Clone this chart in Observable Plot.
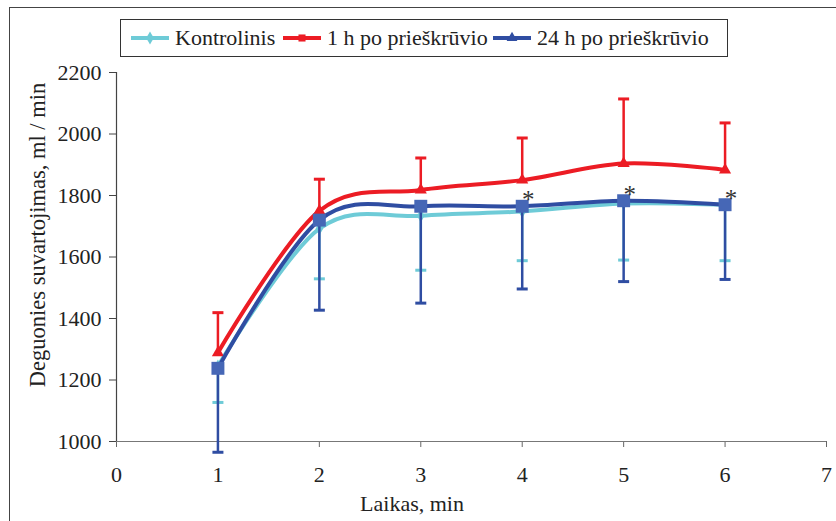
<!DOCTYPE html>
<html><head><meta charset="utf-8">
<script src="https://cdn.jsdelivr.net/npm/d3@7"></script>
<script src="https://cdn.jsdelivr.net/npm/@observablehq/plot@0.6"></script>
<style>
body{margin:0;background:#fff;}
#wrap{position:relative;width:836px;height:521px;overflow:hidden;font-family:"Liberation Serif","DejaVu Serif",serif;color:#222;}
#border{position:absolute;left:9px;top:7px;width:900px;height:600px;border-left:1.5px solid #444;border-top:1.5px solid #444;pointer-events:none;}
#legend{position:relative;height:60px;}
#lbox{position:absolute;left:120px;top:19px;width:606px;height:36px;border:1px solid #333;background:#fff;}
.item{position:absolute;top:0;height:36px;display:flex;align-items:center;font-size:22px;white-space:nowrap;font-family:"Liberation Serif","DejaVu Serif",serif;}
#chart svg{display:block;}
#chart svg text{font-family:"Liberation Serif","DejaVu Serif",serif;}
</style></head>
<body><div id="wrap"><div id="border"></div><div id="legend"><div id="lbox"></div></div><div id="chart"></div></div>
<script>
// ---- data ----
const times = [1, 2, 3, 4, 5, 6];
const kontrolinis   = [1245, 1692, 1734, 1748, 1774, 1770];
const kontrolinisLo = [1127, 1529, 1557, 1588, 1590, 1588];
const poViena       = [1289, 1750, 1818, 1850, 1904, 1883];
const poVienaHi     = [1419, 1853, 1922, 1987, 2114, 2036];
const po24          = [1238, 1720, 1765, 1765, 1783, 1770];
const po24Lo        = [965, 1427, 1450, 1496, 1520, 1527];
const starTimes = [4, 5, 6];
const seriesNames = ["Kontrolinis", "1 h po prieškrūvio", "24 h po prieškrūvio"];
const yTicks = [1000, 1200, 1400, 1600, 1800, 2000, 2200];
const xTicks = [0, 1, 2, 3, 4, 5, 6, 7];
const yLabel = "Deguonies suvartojimas, ml / min";
const xLabel = "Laikas, min";

// ---- styles ----
const FONT = '"Liberation Serif","DejaVu Serif",serif';
const cCyan = "#6ecbd7", cRed = "#ec1c24", cBlue = "#2f4da2", cBlueMark = "#4667b6";

const rows = times.map((t, i) => ({
  t, k: kontrolinis[i], kLo: kontrolinisLo[i],
  r: poViena[i], rHi: poVienaHi[i],
  b: po24[i], bLo: po24Lo[i]
}));
const starRows = rows.filter(d => starTimes.includes(d.t));

const hline = {draw(ctx, size) { const r = Math.sqrt(size / Math.PI); ctx.moveTo(-r, 0); ctx.lineTo(r, 0); }};

// ---- legend ----
const legendItems = [
  {name: seriesNames[0], color: cCyan, sym: d3.symbolDiamond, left: 10},
  {name: seriesNames[1], color: cRed, sym: d3.symbolSquare, left: 162},
  {name: seriesNames[2], color: cBlue, sym: d3.symbolTriangle, left: 372}
];
const lbox = d3.select("#lbox");
for (const it of legendItems) {
  const item = lbox.append("div").attr("class", "item").style("left", it.left + "px");
  const s = item.append("svg").attr("width", 38).attr("height", 14).style("margin-right", "6px");
  s.append("line").attr("x1", 0).attr("x2", 38).attr("y1", 7).attr("y2", 7).attr("stroke", it.color).attr("stroke-width", 4);
  s.append("path").attr("d", d3.symbol(it.sym, 50)()).attr("transform", "translate(19,7)").attr("fill", it.color);
  item.append("span").text(it.name);
}

// ---- chart ----
const plot = Plot.plot({
  width: 836, height: 461,
  marginTop: 12, marginBottom: 80, marginLeft: 116, marginRight: 10,
  style: {fontFamily: FONT, fontSize: "22px", color: "#222", background: "transparent", overflow: "visible"},
  x: {domain: [0, 7]},
  y: {domain: [1000, 2200]},
  marks: [
    Plot.axisY({ticks: yTicks, tickSize: 7, tickPadding: 8, label: null, stroke: "#444", tickFormat: d => String(d)}),
    Plot.axisX({ticks: xTicks, tickSize: 6, tickPadding: 19, label: null, stroke: "#666", tickFormat: d => String(d)}),
    Plot.ruleX([0], {stroke: "#444", strokeWidth: 1.2}),
    Plot.ruleY([1000], {stroke: "#777", strokeWidth: 1.2}),
    // Kontrolinis
    Plot.ruleX(rows, {x: "t", y1: "k", y2: "kLo", stroke: cCyan, strokeWidth: 2.5}),
    Plot.dot(rows, {x: "t", y: "kLo", symbol: hline, r: 5.5, fill: "none", stroke: cCyan, strokeWidth: 3}),
    Plot.line(rows, {x: "t", y: "k", stroke: cCyan, strokeWidth: 4, curve: "cardinal"}),
    Plot.dot(rows, {x: "t", y: "k", symbol: "diamond", r: 4, fill: cCyan, stroke: "none"}),
    // 1 h
    Plot.ruleX(rows, {x: "t", y1: "r", y2: "rHi", stroke: cRed, strokeWidth: 2.5}),
    Plot.dot(rows, {x: "t", y: "rHi", symbol: hline, r: 5.5, fill: "none", stroke: cRed, strokeWidth: 3}),
    Plot.line(rows, {x: "t", y: "r", stroke: cRed, strokeWidth: 4, curve: "cardinal"}),
    Plot.dot(rows, {x: "t", y: "r", symbol: "triangle", r: 4.5, fill: cRed, stroke: "none"}),
    // 24 h
    Plot.ruleX(rows, {x: "t", y1: "b", y2: "bLo", stroke: cBlue, strokeWidth: 2.5}),
    Plot.dot(rows, {x: "t", y: "bLo", symbol: hline, r: 5.5, fill: "none", stroke: cBlue, strokeWidth: 3}),
    Plot.line(rows, {x: "t", y: "b", stroke: cBlue, strokeWidth: 4, curve: "cardinal"}),
    Plot.dot(rows, {x: "t", y: "b", symbol: "square", r: 7.3, fill: cBlueMark, stroke: "none"}),
    // significance stars
    Plot.text(starRows, {x: "t", y: "b", text: () => "*", dx: 6, dy: -6, fontSize: 25, fill: "#333"})
  ]
});
document.getElementById("chart").append(plot);

const svg = d3.select(plot);
svg.append("text").text(yLabel)
  .attr("transform", "translate(40,175) rotate(-90)")
  .attr("text-anchor", "middle").attr("dominant-baseline", "middle")
  .attr("fill", "#222").style("font-size", "22.5px").style("font-family", FONT);
svg.append("text").text(xLabel)
  .attr("x", 412).attr("y", 446)
  .attr("text-anchor", "middle").attr("dominant-baseline", "middle")
  .attr("fill", "#222").style("font-size", "22px").style("font-family", FONT);
</script>
</body></html>
